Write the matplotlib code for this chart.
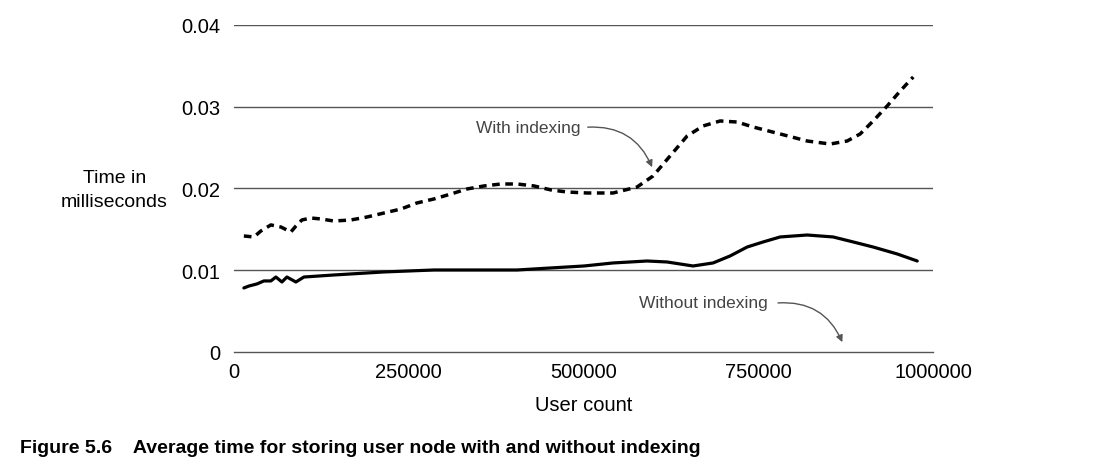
import matplotlib
matplotlib.use("Agg")
import matplotlib.pyplot as plt

plt.rcParams["font.family"] = ["Liberation Sans", "DejaVu Sans"]

# values
with_x = [14300, 28600, 38600, 52900, 67200, 81500, 88700, 97300, 110200, 124500,
          143100, 167400, 190300, 214600, 238900, 261800, 286100, 310500, 333300,
          357700, 382000, 404900, 429200, 453500, 476400, 505000, 542200, 576500,
          599400, 623700, 648100, 670900, 695300, 719600, 742500, 781100, 819700,
          852600, 876900, 895500, 914100, 934100, 952800, 971400]
with_y = [0.01419, 0.01407, 0.01480, 0.01554, 0.01529, 0.01468, 0.01541, 0.01615,
          0.01639, 0.01627, 0.01602, 0.01615, 0.01651, 0.01700, 0.01749, 0.01823,
          0.01872, 0.01933, 0.01994, 0.02031, 0.02055, 0.02055, 0.02031, 0.01982,
          0.01957, 0.01945, 0.01945, 0.02018, 0.02153, 0.02398, 0.02642, 0.02765,
          0.02826, 0.02813, 0.02752, 0.02667, 0.02581, 0.02544, 0.02581, 0.02667,
          0.02826, 0.03009, 0.03193, 0.03364]

without_x = [14300, 21500, 32900, 42900, 52900, 60100, 68700, 75800, 88700, 100100,
             143100, 214600, 286100, 357700, 404900, 453500, 500700, 542200, 590800,
             619400, 656600, 685200, 709600, 733900, 756800, 781100, 819700, 838300,
             856900, 885500, 914100, 948500, 977100]
without_y = [0.00783, 0.00807, 0.00832, 0.00869, 0.00869, 0.00917, 0.00856, 0.00917,
             0.00856, 0.00917, 0.00942, 0.00979, 0.01003, 0.01003, 0.01003, 0.01028,
             0.01052, 0.01089, 0.01113, 0.01101, 0.01052, 0.01089, 0.01175, 0.01284,
             0.01346, 0.01407, 0.01431, 0.01419, 0.01407, 0.01346, 0.01284, 0.01199,
             0.01113]

x_ticks = [0, 250000, 500000, 750000, 1000000]
y_ticks = [0, 0.01, 0.02, 0.03, 0.04]
y_tick_labels = ["0", "0.01", "0.02", "0.03", "0.04"]

fig = plt.figure(figsize=(11.19, 4.77), dpi=100)
ax = fig.add_axes([0.209, 0.26, 0.625, 0.6855])

for v in y_ticks[1:]:
    ax.axhline(v, color="#555555", lw=1.0, zorder=1)
ax.plot(with_x, with_y, color="black", lw=2.5, ls=(0, (2.2, 1.6)), zorder=3,
        dash_joinstyle="round")
ax.plot(without_x, without_y, color="black", lw=2.3, zorder=3,
        solid_joinstyle="round", solid_capstyle="round")

ax.set_xlim(0, 1000000)
ax.set_ylim(0, 0.04)
ax.set_xticks(x_ticks)
ax.set_xticklabels([str(t) for t in x_ticks])
ax.set_yticks(y_ticks)
ax.set_yticklabels(y_tick_labels)
ax.tick_params(length=0, labelsize=14.5, pad=10)
ax.tick_params(axis="x", pad=7)
for s in ["top", "right", "left"]:
    ax.spines[s].set_visible(False)
ax.spines["bottom"].set_color("#555555")
ax.spines["bottom"].set_linewidth(1.0)

ax.set_xlabel("User count", fontsize=14.5, labelpad=10)
fig.text(0.102, 0.601, "Time in\nmilliseconds", fontsize=14, ha="center", va="center",
         linespacing=1.5)

# callouts: label text plus a curved arrow starting right of it
ax.text(495000, 0.0275, "With indexing", fontsize=12.5, color="#444444",
        ha="right", va="center")
ax.annotate("", xy=(598000, 0.0226), xytext=(506000, 0.0275),
            arrowprops=dict(arrowstyle="-|>", color="#555555", lw=1.0,
                            connectionstyle="arc3,rad=-0.35", shrinkA=0, shrinkB=0))
ax.text(764000, 0.0061, "Without indexing", fontsize=12.5, color="#444444",
        ha="right", va="center")
ax.annotate("", xy=(870000, 0.0012), xytext=(778000, 0.0060),
            arrowprops=dict(arrowstyle="-|>", color="#555555", lw=1.0,
                            connectionstyle="arc3,rad=-0.35", shrinkA=0, shrinkB=0))

fig.text(0.018, 0.05, "Figure 5.6    Average time for storing user node with and without indexing",
         fontsize=14, fontweight="bold")

fig.savefig("out.png", dpi=100)
